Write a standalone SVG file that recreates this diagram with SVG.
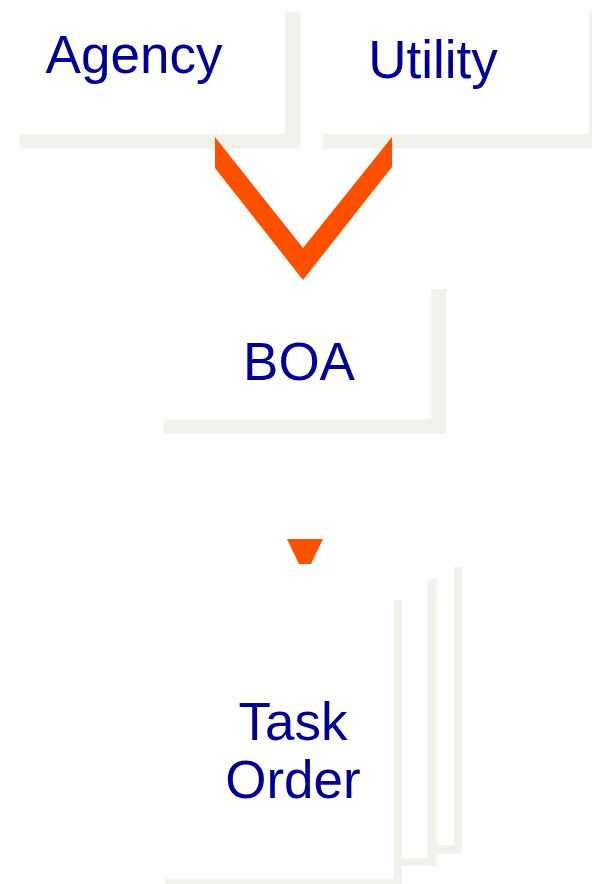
<svg xmlns="http://www.w3.org/2000/svg" width="592" height="884" viewBox="0 0 592 884">
<style>
.sh{fill:#f2f1ec}
.lbl{font-family:"Liberation Sans",Arial,sans-serif;font-size:53px;fill:#000099;text-anchor:middle}
.arr{fill:#ff5000}
</style>
<rect width="592" height="884" fill="#ffffff"/>
<g id="agency">
<path class="sh" d="M285 12H300V149H20V134H285Z"/>
<text class="lbl" x="134" y="73">Agency</text>
</g>
<g id="utility">
<path class="sh" d="M589 12H604V149H323V134H589Z"/>
<text class="lbl" x="433" y="78">Utility</text>
</g>
<g id="boa">
<path class="sh" d="M431 289H446V434H164V419H431Z"/>
<text class="lbl" x="299" y="380">BOA</text>
</g>
<g id="task-order">
<path class="sh" d="M454 567H462V854H428V845H454Z"/>
<path class="sh" d="M428 579H437V866H394V858H428Z"/>
<path class="sh" d="M394 600H402V887H165V879H394Z"/>
<text class="lbl" x="293" y="740">Task</text>
<text class="lbl" x="293" y="798">Order</text>
</g>
<g id="connectors">
<polygon class="arr" points="215,137 215,168 303,280 392,167 392,137 303,248"/>
<polygon class="arr" points="287,539 323,539 311,564 299,564"/>
</g>
</svg>
